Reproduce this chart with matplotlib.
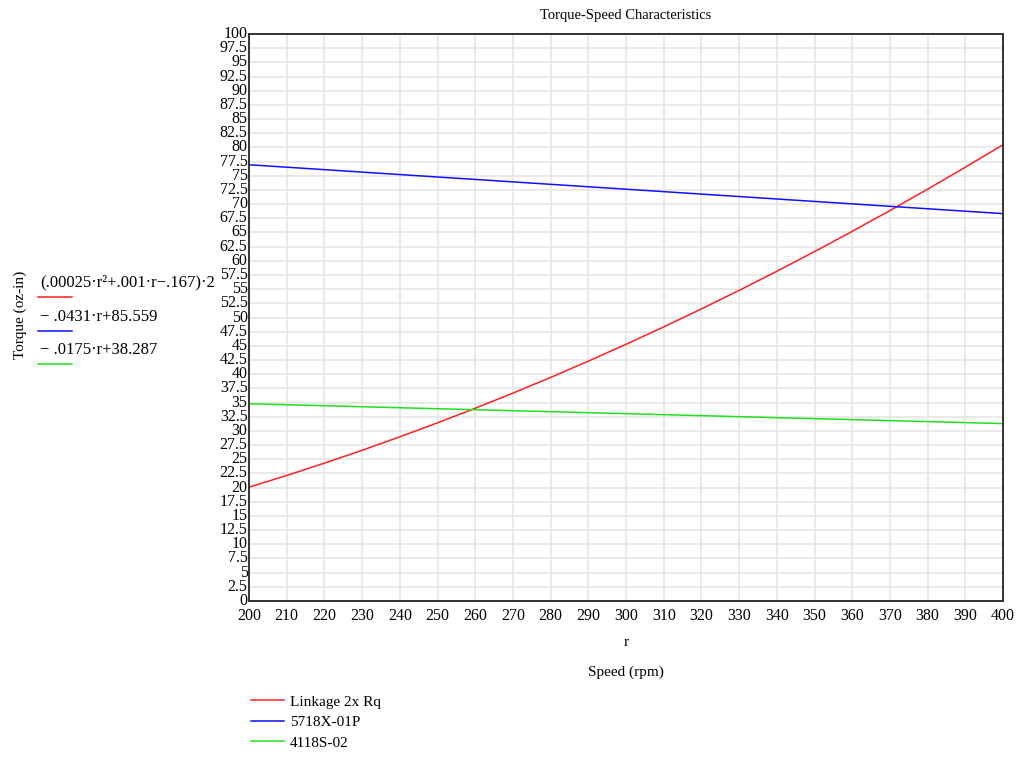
import numpy as np
import matplotlib
matplotlib.use("Agg")
import matplotlib.pyplot as plt
from matplotlib.lines import Line2D

plt.rcParams['font.family'] = ['Liberation Serif', 'DejaVu Serif']

# speed values (rpm) and torque (oz-in)
speed = [200, 210, 220, 230, 240, 250, 260, 270, 280, 290, 300,
         310, 320, 330, 340, 350, 360, 370, 380, 390, 400]
linkage = [20.07, 22.14, 24.31, 26.58, 28.95, 31.42, 33.99, 36.66, 39.43, 42.30, 45.27,
           48.34, 51.51, 54.78, 58.15, 61.62, 65.19, 68.86, 72.63, 76.50, 80.47]
speed_motor = [200, 250, 300, 350, 400]
motor_5718 = [76.94, 74.78, 72.63, 70.47, 68.32]
motor_4118 = [34.79, 33.91, 33.04, 32.16, 31.29]

names = ['Linkage 2x Rq', '5718X-01P', '4118S-02']
exprs = ['(.00025·r²+.001·r−.167)·2', '− .0431·r+85.559', '− .0175·r+38.287']
colors = ['#ff2020', '#1010ff', '#20e020']

fig = plt.figure(figsize=(10.24, 7.57), dpi=100)
ax = fig.add_axes([249/1024, 1 - 601/757, 754/1024, 567/757])

l1, = ax.plot(speed, linkage, color=colors[0], lw=1.1)
l2, = ax.plot(speed_motor, motor_5718, color=colors[1], lw=1.1)
l3, = ax.plot(speed_motor, motor_4118, color=colors[2], lw=1.1)

ax.set_xlim(200, 400)
ax.set_ylim(0, 100)
ax.set_xticks(np.arange(200, 401, 10))
yt = np.arange(0, 100.1, 2.5)
ax.set_yticks(yt)
ax.set_yticklabels([('%g' % v) for v in yt])
ax.tick_params(length=0, labelsize=11.5, pad=1)
ax.tick_params(axis='x', pad=5)
for lab in ax.get_yticklabels():
    lab.set_verticalalignment('center')
ax.grid(True, color='#e6e6e6', lw=1.2)
ax.set_axisbelow(True)
for s in ax.spines.values():
    s.set_color('#333333')
    s.set_linewidth(1.4)

fig.text(626/1024, 1 - 15/757, 'Torque-Speed Characteristics', ha='center', va='center', fontsize=10.5)
fig.text(626/1024, 1 - 642/757, 'r', ha='center', va='center', fontsize=11)
fig.text(626/1024, 1 - 672/757, 'Speed (rpm)', ha='center', va='center', fontsize=11)
fig.text(20/1024, 1 - 315/757, 'Torque (oz-in)', ha='center', va='center', rotation=90, fontsize=11)

# left-side expression legend
ytxt = [282, 317, 350]
yline = [297, 331, 364]
for e, c, yt_, yl in zip(exprs, colors, ytxt, yline):
    fig.text(40/1024, 1 - yt_/757, e, ha='left', va='center', fontsize=12)
    fig.add_artist(Line2D([38/1024, 72/1024], [1 - yl/757, 1 - yl/757], color=c, lw=1.1))

fig.legend([l1, l2, l3], names, loc='upper left', bbox_to_anchor=(251/1024, 1 - 695/757),
           frameon=False, fontsize=11, handlelength=2.15, handletextpad=0.4,
           labelspacing=0.45, borderaxespad=0, borderpad=0)

fig.savefig('out.png', dpi=100)
